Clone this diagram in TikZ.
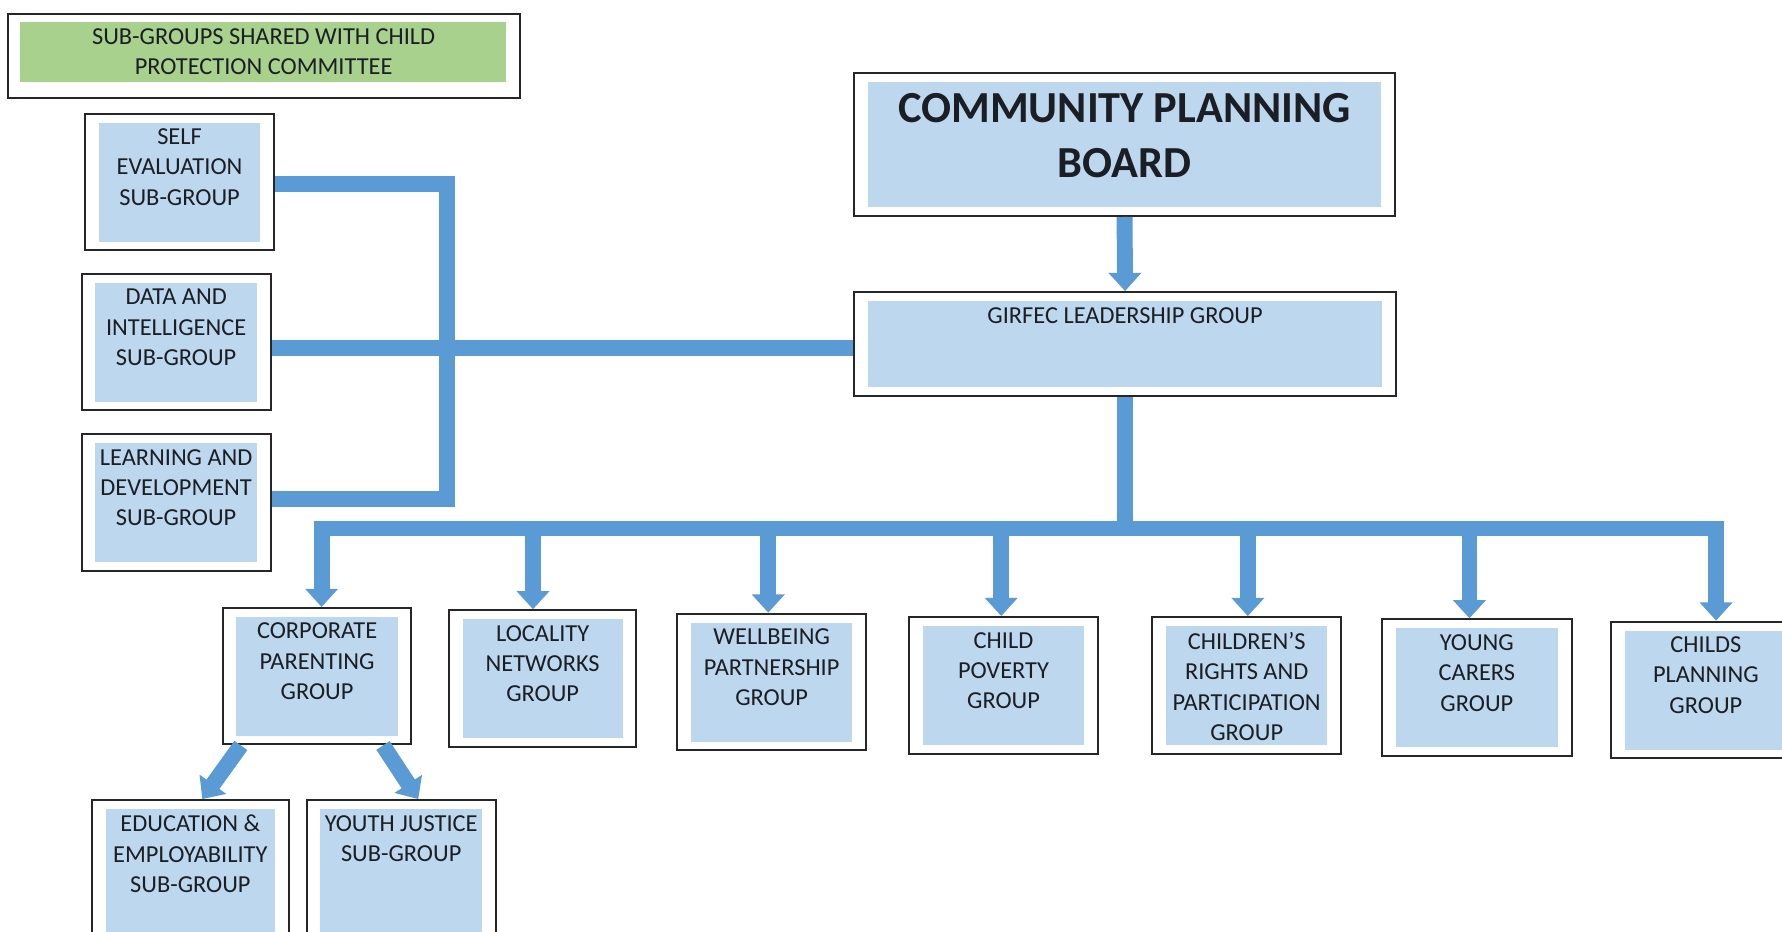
\documentclass[tikz,border=0pt]{standalone}
\usepackage{fontspec}
\setmainfont{Carlito}
\usetikzlibrary{arrows.meta,calc}
\definecolor{barblue}{HTML}{5B9BD5}
\definecolor{boxfill}{HTML}{BDD7EE}
\definecolor{greenfill}{HTML}{A9D18E}
\definecolor{ink}{HTML}{1B1E24}
\begin{document}
\begin{tikzpicture}[x=0.01cm,y=-0.01cm,
  frame/.style={draw=black!85, line width=0.5pt, fill=white, inner sep=0pt},
  sz/.style 2 args={minimum width=#1cm, minimum height=#2cm},
  bluebox/.style={frame, path picture={\fill[boxfill] ($(path picture bounding box.north west)+(0.12cm,-0.08cm)$) rectangle ($(path picture bounding box.south east)+(-0.12cm,0.075cm)$);}},
  greenbox/.style={frame, path picture={\fill[greenfill] ($(path picture bounding box.north west)+(0.11cm,-0.07cm)$) rectangle ($(path picture bounding box.south east)+(-0.12cm,0.14cm)$);}},
  txt/.style={anchor=north, inner sep=0pt, align=center, text=ink, font=\fontsize{6.1}{7.6}\selectfont},
  bigtxt/.style={txt, font=\fontsize{11.1}{13.7}\selectfont\bfseries},
  bar/.style={draw=barblue, line width=0.14cm, line join=miter},
  arrowbar/.style={bar, -{Triangle[width=0.28cm,length=0.16cm]}}
]
\useasboundingbox (0,0) rectangle (1568,820);
\clip (0,0) rectangle (1568,820);

% left column
\node[greenbox, sz={4.50}{0.74}] (grn) at (232,49) {};
\node[txt] (grn-t) at ([yshift=-0.135cm]grn.north) {SUB-GROUPS SHARED WITH CHILD\\PROTECTION COMMITTEE};

\node[bluebox, sz={1.66}{1.20}] (se) at (158,160) {};
\node[txt] (se-t) at ([yshift=-0.135cm]se.north) {SELF\\EVALUATION\\SUB-GROUP};
\node[bluebox, sz={1.66}{1.20}] (da) at (155,301) {};
\node[txt] (da-t) at ([yshift=-0.135cm]da.north) {DATA AND\\INTELLIGENCE\\SUB-GROUP};
\node[bluebox, sz={1.66}{1.20}] (le) at (155,442) {};
\node[txt] (le-t) at ([yshift=-0.135cm]le.north) {LEARNING AND\\DEVELOPMENT\\SUB-GROUP};

% top
\node[bluebox, sz={4.75}{1.26}] (cpb) at (989.5,127) {};
\node[bigtxt] (cpb-t) at ([yshift=-0.185cm]cpb.north) {COMMUNITY PLANNING\\BOARD};
\node[bluebox, sz={4.76}{0.91}] (gl) at (990,302.5) {};
\node[txt] (gl-t) at ([yshift=-0.135cm]gl.north) {GIRFEC LEADERSHIP GROUP};

% groups
\node[bluebox, sz={1.66}{1.20}] (cp) at (279,595) {};
\node[txt] (cp-t) at ([yshift=-0.135cm]cp.north) {CORPORATE\\PARENTING\\GROUP};
\node[bluebox, sz={1.65}{1.20}] (lo) at (477.5,597) {};
\node[txt] (lo-t) at ([yshift=-0.135cm]lo.north) {LOCALITY\\NETWORKS\\GROUP};
\node[bluebox, sz={1.66}{1.20}] (wb) at (679,600) {};
\node[txt] (wb-t) at ([yshift=-0.135cm]wb.north) {WELLBEING\\PARTNERSHIP\\GROUP};
\node[bluebox, sz={1.66}{1.20}] (po) at (883,603) {};
\node[txt] (po-t) at ([yshift=-0.135cm]po.north) {CHILD\\POVERTY\\GROUP};
\node[bluebox, sz={1.66}{1.20}] (cr) at (1097,603) {};
\node[txt] (cr-t) at ([yshift=-0.135cm]cr.north) {CHILDREN’S\\RIGHTS AND\\PARTICIPATION\\GROUP};
\node[bluebox, sz={1.67}{1.20}] (yc) at (1299.5,605) {};
\node[txt] (yc-t) at ([yshift=-0.135cm]yc.north) {YOUNG\\CARERS\\GROUP};
\node[bluebox, sz={1.66}{1.20}] (pl) at (1501,607) {};
\node[txt] (pl-t) at ([yshift=-0.135cm]pl.north) {CHILDS\\PLANNING\\GROUP};

% sub-groups of corporate parenting
\node[bluebox, sz={1.73}{1.30}] (ed) at (167.5,769) {};
\node[txt] (ed-t) at ([yshift=-0.135cm]ed.north) {EDUCATION \&\\EMPLOYABILITY\\SUB-GROUP};
\node[bluebox, sz={1.66}{1.30}] (yj) at (353,769) {};
\node[txt] (yj-t) at ([yshift=-0.135cm]yj.north) {YOUTH JUSTICE\\SUB-GROUP};

% connectors on the left
\coordinate (jx) at (393,0);
\coordinate (se-c) at ([yshift=-0.02cm]se.east);
\coordinate (da-c) at ([yshift=-0.05cm]da.east);
\coordinate (le-c) at ([yshift=0.03cm]le.east);
\draw[bar] (se-c) -| (jx |- le-c) -- (le-c);
\draw[bar] (da-c) -- (da-c -| gl.west);

% top connectors
\draw[arrowbar] (cpb.south) -- (gl.north);
\coordinate (busL) at (276,465);
\coordinate (busR) at (1517,465);
\draw[bar] (gl.south) -- (gl.south |- busL);
\draw[bar] (busL) -- (busR);

% drops
\coordinate (d1) at (283,465);
\coordinate (d2) at (469,465);
\coordinate (d3) at (676,465);
\coordinate (d4) at (881,465);
\coordinate (d5) at (1098,465);
\coordinate (d6) at (1293,465);
\coordinate (d7) at (1510,465);
\draw[arrowbar] (d1) -- (d1 |- cp.north);
\draw[arrowbar] (d2) -- (d2 |- lo.north);
\draw[arrowbar] (d3) -- (d3 |- wb.north);
\draw[arrowbar] (d4) -- (d4 |- po.north);
\draw[arrowbar] (d5) -- (d5 |- cr.north);
\draw[arrowbar] (d6) -- (d6 |- yc.north);
\draw[arrowbar] (d7) -- (d7 |- pl.north);

% diagonal arrows
\draw[arrowbar] ([xshift=-0.67cm]cp.south) -- ([xshift=0.105cm]ed.north);
\draw[arrowbar] ([xshift=0.58cm]cp.south) -- ([xshift=0.15cm]yj.north);
\end{tikzpicture}
\end{document}
